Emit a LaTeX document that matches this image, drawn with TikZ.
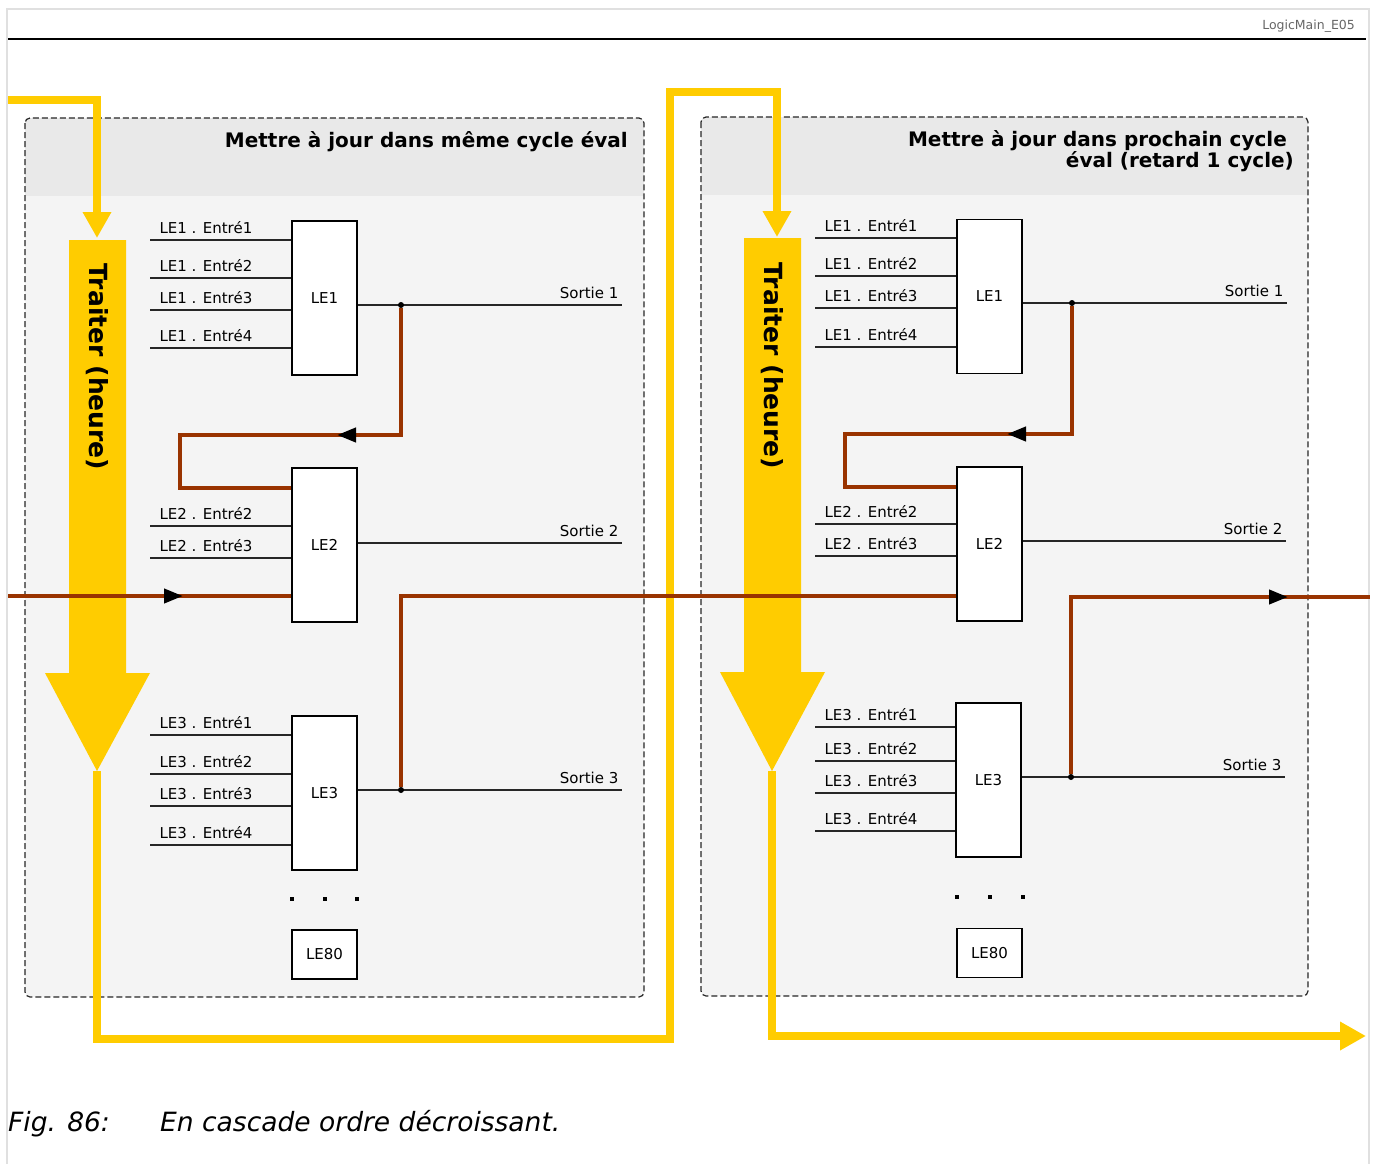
\documentclass[tikz,border=0pt]{standalone}
\usepackage{fontspec}
\setmainfont{DejaVu Sans}
\usetikzlibrary{arrows.meta,positioning,calc}

\definecolor{jaune}{HTML}{FFCC00}
\definecolor{brique}{HTML}{993300}
\definecolor{entete}{HTML}{E9E9E9}
\definecolor{fond}{HTML}{F4F4F4}
\newcommand{\petit}{\fontsize{15}{18}\selectfont}
\newcommand{\titre}{\fontsize{20}{20}\selectfont\bfseries}

\tikzset{
  leblock/.style={draw, fill=white, line width=1.2pt, inner sep=0pt, minimum width=65pt, minimum height=154pt, font=\petit},
  lefin/.style={leblock, minimum height=49pt},
  fil/.style={draw=black!85, line width=1.2pt},
  entree/.style={anchor=base west, font=\petit, inner sep=0pt, xshift=9pt, yshift=7pt},
  sortie/.style={anchor=base east, font=\petit, inner sep=0pt, xshift=-3pt, yshift=7pt},
  jonction/.style={circle, fill=black, inner sep=0pt, minimum size=6pt},
  rouge/.style={draw=brique, line width=4pt},
  flux/.style={draw=jaune, line width=8pt},
  panneau/.style={draw=black!85, dash pattern=on 6pt off 3pt, line width=1.2pt, rounded corners=5pt},
  traiter/.style={rotate=-90, font=\fontsize{25}{25}\selectfont\bfseries},
  fleche/.tip={Triangle[length=19pt, width=14pt, color=black]},
  grosse/.tip={Triangle[length=26pt, width=27pt]}
}

\begin{document}
\begin{tikzpicture}[x=1pt, y=-1pt]
    \useasboundingbox (0,0) rectangle (1373,1164);
    % Page frame and header
    \draw[black!12, line width=2pt] (7,9) rectangle (1369,1180);
    \draw[line width=2pt] (8,39) -- (1366,39);
    \node[anchor=base east, font=\fontsize{12.5}{14}\selectfont, text=black!60, inner sep=0pt] (ref) at (1355,30) {LogicMain\_E05};

    % Left panel: same cycle
    \begin{scope}
        \clip[rounded corners=5pt] (25,118) rectangle (644,997);
        \fill[fond] (25,118) rectangle (644,997);
        \fill[entete] (25,118) rectangle (644,196);
    \end{scope}
    \draw[panneau] (25,118) rectangle (644,997);
    \node[anchor=base east, font=\titre, inner sep=0pt] (titreg) at (628,147) {Mettre à jour dans même cycle éval};

    % Right panel: next cycle
    \begin{scope}
        \clip[rounded corners=5pt] (701,117) rectangle (1308,996);
        \fill[fond] (701,117) rectangle (1308,996);
        \fill[entete] (701,117) rectangle (1308,195);
    \end{scope}
    \draw[panneau] (701,117) rectangle (1308,996);
    \node[anchor=east, font=\titre, align=right, inner sep=0pt] (titred) at (1294,151) {Mettre à jour dans prochain cycle\hspace*{7pt}\\éval (retard 1 cycle)};

    % Process flow (yellow)
    \fill[jaune] (69,240) -- (126,240) -- (126,673) -- (150,673) -- (97,771) -- (45,673) -- (69,673) -- cycle;
    \fill[jaune] (744,238) -- (801,238) -- (801,672) -- (825,672) -- (772,771) -- (720,672) -- (744,672) -- cycle;
    \node[traiter] (traiterg) at (97,367) {Traiter (heure)};
    \node[traiter] (traiterd) at (772,366) {Traiter (heure)};
    \coordinate (debut) at (8,100);
    \coordinate (hautg) at (97,238);
    \coordinate (pointeg) at (97,771);
    \coordinate (hautd) at (777,237);
    \coordinate (pointed) at (772,771);
    \coordinate (fin) at (1366,1036);
    \draw[flux, -{grosse}] (debut) -| (hautg);
    \draw[flux, -{grosse}] (pointeg) |- (670,1039) -- (670,92) -| (hautd);
    \draw[flux, -{grosse}] (pointed) |- (fin);

    % Left blocks
    \node[leblock] (LE1g) at (324.5,298) {LE1};
    \node[leblock] (LE2g) at (324.5,545) {LE2};
    \node[leblock] (LE3g) at (324.5,793) {LE3};
    \node[lefin] (LE80g) at (324.5,954.5) {LE80};
    \foreach \y/\k in {240/1, 278/2, 310/3, 348/4}
        \draw[fil] (150,\y) node[entree] (iLE1g\k) {LE1 . Entré\k} -- (LE1g.west |- 0,\y);
    \foreach \y/\k in {526/2, 558/3}
        \draw[fil] (150,\y) node[entree] (iLE2g\k) {LE2 . Entré\k} -- (LE2g.west |- 0,\y);
    \foreach \y/\k in {735/1, 774/2, 806/3, 845/4}
        \draw[fil] (150,\y) node[entree] (iLE3g\k) {LE3 . Entré\k} -- (LE3g.west |- 0,\y);
    \coordinate (s1g) at (622,305);
    \coordinate (s2g) at (622,543);
    \coordinate (s3g) at (622,790);
    \draw[fil] (LE1g.east |- s1g) -- (s1g) node[sortie] (os1g) {Sortie 1};
    \draw[fil] (LE2g.east |- s2g) -- (s2g) node[sortie] (os2g) {Sortie 2};
    \draw[fil] (LE3g.east |- s3g) -- (s3g) node[sortie] (os3g) {Sortie 3};
    \node[jonction] (j1g) at (401,305) {};
    \node[jonction] (j3g) at (401,790) {};
    \foreach \x in {292,325,357}
        \fill (\x-2,897) rectangle ++(4,4);

    % Right blocks
    \node[leblock] (LE1d) at (989.5,296.5) {LE1};
    \node[leblock] (LE2d) at (989.5,544) {LE2};
    \node[leblock] (LE3d) at (988.5,780) {LE3};
    \node[lefin] (LE80d) at (989.5,953) {LE80};
    \foreach \y/\k in {238/1, 276/2, 308/3, 347/4}
        \draw[fil] (815,\y) node[entree] (iLE1d\k) {LE1 . Entré\k} -- (LE1d.west |- 0,\y);
    \foreach \y/\k in {524/2, 556/3}
        \draw[fil] (815,\y) node[entree] (iLE2d\k) {LE2 . Entré\k} -- (LE2d.west |- 0,\y);
    \foreach \y/\k in {727/1, 761/2, 793/3, 831/4}
        \draw[fil] (815,\y) node[entree] (iLE3d\k) {LE3 . Entré\k} -- (LE3d.west |- 0,\y);
    \coordinate (s1d) at (1287,303);
    \coordinate (s2d) at (1286,541);
    \coordinate (s3d) at (1285,777);
    \draw[fil] (LE1d.east |- s1d) -- (s1d) node[sortie] (os1d) {Sortie 1};
    \draw[fil] (LE2d.east |- s2d) -- (s2d) node[sortie] (os2d) {Sortie 2};
    \draw[fil] (LE3d.east |- s3d) -- (s3d) node[sortie] (os3d) {Sortie 3};
    \node[jonction] (j1d) at (1072,303) {};
    \node[jonction] (j3d) at (1071,777) {};
    \foreach \x in {957,990,1023}
        \fill (\x-2,895) rectangle ++(4,4);

    % Cascade (red), arrow heads laid on top of the lines
    \coordinate (pf1g) at (337,435);
    \coordinate (c1g) at (180,435);
    \draw[rouge] (j1g.south) |- (c1g) |- (LE2g.west |- 0,488);
    \draw[rouge, -{fleche}] (j1g.south) |- (pf1g);
    \coordinate (eg) at (8,596);
    \coordinate (pf2g) at (183,596);
    \draw[rouge] (eg) -- (LE2g.west |- eg);
    \draw[rouge, -{fleche}] (eg) -- (pf2g);
    \draw[rouge] (j3g.north) |- (LE2d.west |- eg);
    \coordinate (pf1d) at (1007,434);
    \coordinate (c1d) at (845,434);
    \draw[rouge] (j1d.south) |- (c1d) |- (LE2d.west |- 0,487);
    \draw[rouge, -{fleche}] (j1d.south) |- (pf1d);
    \coordinate (pf2d) at (1288,597);
    \coordinate (sd) at (1370,597);
    \draw[rouge] (j3d.north) |- (sd);
    \draw[rouge, -{fleche}] (j3d.north) |- (pf2d);

    % Caption
    \node[anchor=base west, font=\fontsize{26.5}{30}\selectfont\itshape, inner sep=0pt] (fig) at (8,1131) {Fig. 86:};
    \node[anchor=base west, font=\fontsize{26.5}{30}\selectfont\itshape, inner sep=0pt] (legende) at (160,1131) {En cascade ordre décroissant.};
\end{tikzpicture}
\end{document}
